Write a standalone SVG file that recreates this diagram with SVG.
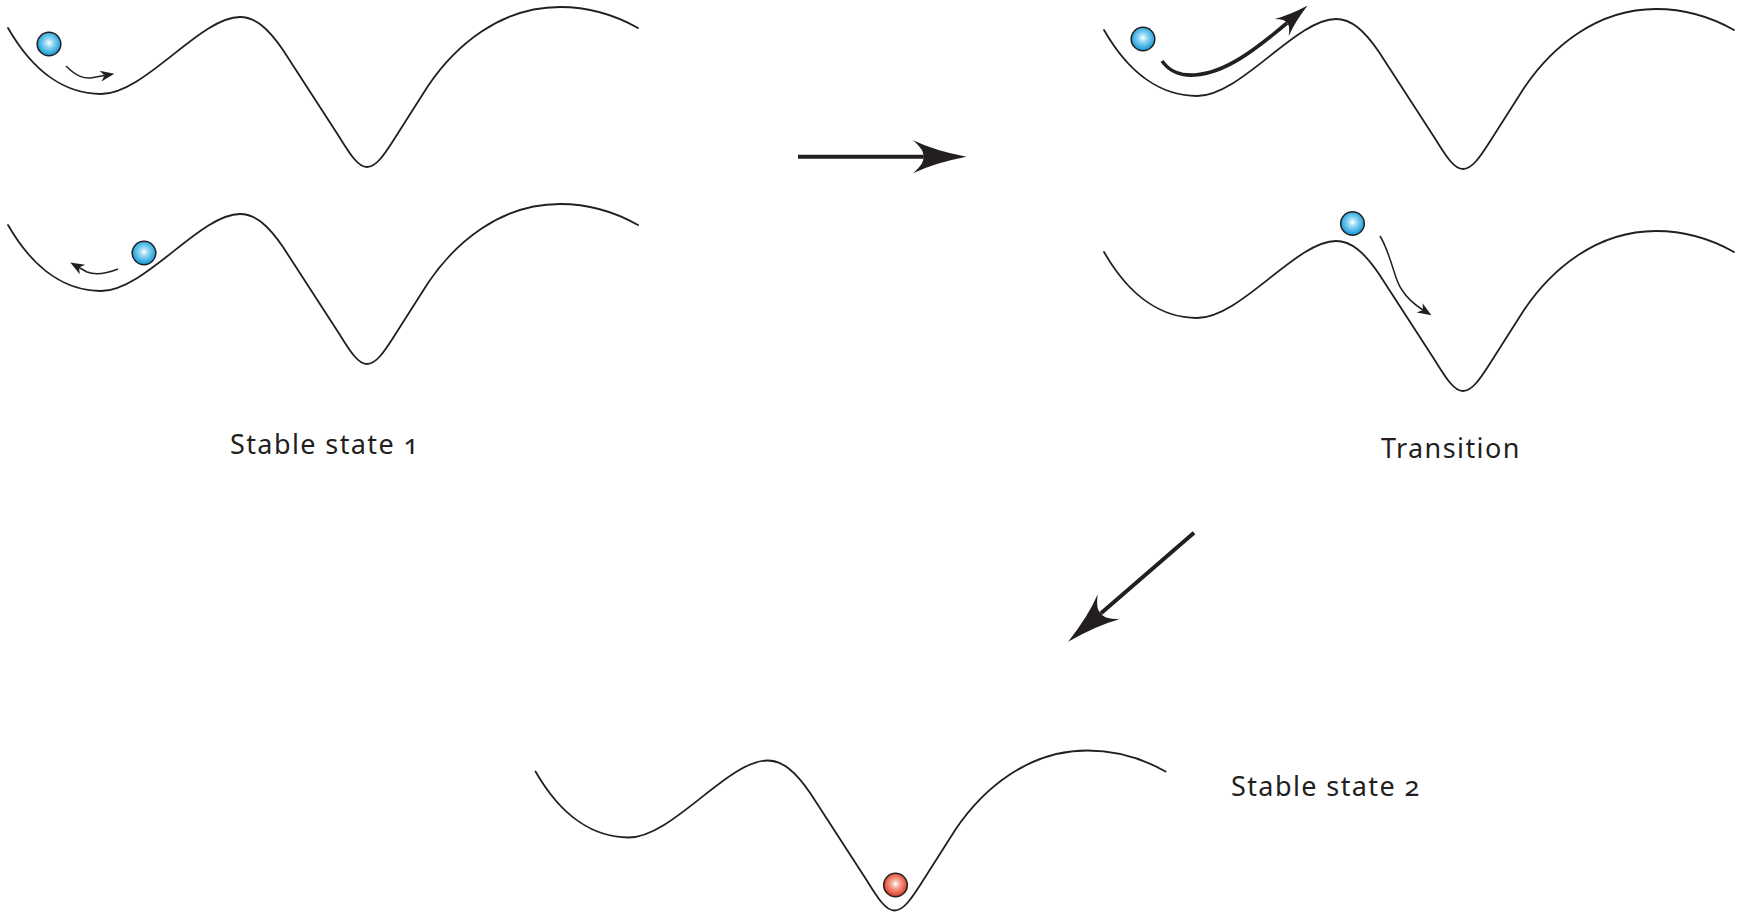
<svg xmlns="http://www.w3.org/2000/svg" xmlns:xlink="http://www.w3.org/1999/xlink" width="1742" height="914" viewBox="0 0 1742 914">
  <style>
    .land { fill: none; stroke: #231f20; stroke-width: 1.8; stroke-linecap: round; stroke-linejoin: round; }
    .ball { stroke: #231f20; stroke-width: 1.5; }
    .thin { fill: none; stroke: #231f20; stroke-width: 1.5; }
    .thick { fill: none; stroke: #231f20; stroke-width: 3.6; }
    .big { fill: none; stroke: #231f20; stroke-width: 4; }
    .label { font-family: "Noto Sans", "Open Sans", "Liberation Sans", sans-serif; font-size: 27px; letter-spacing: 1.4px; fill: #231f20; font-variant-numeric: oldstyle-nums; font-feature-settings: "onum"; }
  </style>
  <defs>
    <radialGradient id="blueBall" cx="50%" cy="45%" r="55%">
      <stop offset="0" stop-color="#ffffff"/>
      <stop offset="0.35" stop-color="#8fd6f3"/>
      <stop offset="1" stop-color="#0d96d6"/>
    </radialGradient>
    <radialGradient id="redBall" cx="50%" cy="45%" r="55%">
      <stop offset="0" stop-color="#ffffff"/>
      <stop offset="0.35" stop-color="#f5a290"/>
      <stop offset="1" stop-color="#d9341f"/>
    </radialGradient>
    <!-- energy landscape: shallow well, barrier, deep well -->
    <path id="landscape" d="M 8,28 C 35,75 68,94 101,94 C 145,94 200,17 240,17 C 255,17 268,28 283,50 L 340,138 C 350,154 358,167 367,167 C 376,167 384,155 393,141 L 428,86 C 455,46 500,7 560,7 C 590,7 615,15 638,28"/>
    <marker id="smallHead" markerUnits="userSpaceOnUse" markerWidth="20" markerHeight="14" viewBox="-5 -7 20 14" refX="0" refY="0" orient="auto" overflow="visible">
      <path d="M 10,0 L -4,-5.5 L 0,0 L -4,5.5 Z" fill="#231f20"/>
    </marker>
    <marker id="midHead" markerUnits="userSpaceOnUse" markerWidth="40" markerHeight="26" viewBox="-10 -13 40 26" refX="0" refY="0" orient="auto" overflow="visible">
      <path d="M 27,0 Q 8,-4 -7,-11 Q 1,-4 0,0 Q 1,4 -7,11 Q 8,4 27,0 Z" fill="#231f20"/>
    </marker>
    <marker id="bigHead" markerUnits="userSpaceOnUse" markerWidth="60" markerHeight="40" viewBox="-12 -20 60 40" refX="0" refY="0" orient="auto" overflow="visible">
      <path d="M 43.5,0 Q 12,-6 -10,-16.5 Q 2,-6 0,0 Q 2,6 -10,16.5 Q 12,6 43.5,0 Z" fill="#231f20"/>
    </marker>
  </defs>

  <rect width="1742" height="914" fill="#ffffff"/>

  <!-- stable state 1, upper: ball rocking to the right in the shallow well -->
  <g id="stable1-upper">
    <use xlink:href="#landscape" href="#landscape" class="land"/>
    <circle class="ball" cx="49" cy="44" r="11.8" fill="url(#blueBall)"/>
    <path class="thin" d="M 66,66 C 76,76 84,80 96,77 L 104.5,75.5" marker-end="url(#smallHead)"/>
  </g>

  <!-- stable state 1, lower: ball rocking back to the left -->
  <g id="stable1-lower">
    <use xlink:href="#landscape" href="#landscape" class="land" transform="translate(0,197)"/>
    <circle class="ball" cx="144" cy="253" r="11.8" fill="url(#blueBall)"/>
    <path class="thin" d="M 118,269 C 108,273 97,276 87,272 L 79,267.5" marker-end="url(#smallHead)"/>
  </g>

  <!-- transition, upper: ball pushed up over the barrier -->
  <g id="transition-upper">
    <use xlink:href="#landscape" href="#landscape" class="land" transform="translate(1096,2)"/>
    <circle class="ball" cx="1143" cy="39" r="11.8" fill="url(#blueBall)"/>
    <path class="thick" d="M 1162,61 C 1170,72 1180,76 1195,75 C 1225,73 1255,50 1287,23" marker-end="url(#midHead)"/>
  </g>

  <!-- transition, lower: ball at the barrier top falling into the deep well -->
  <g id="transition-lower">
    <use xlink:href="#landscape" href="#landscape" class="land" transform="translate(1096,224)"/>
    <circle class="ball" cx="1352.5" cy="223.5" r="11.8" fill="url(#blueBall)"/>
    <path class="thin" d="M 1380,236 C 1392,256 1394,280 1402,290 C 1407,298 1412,303 1423,310" marker-end="url(#smallHead)"/>
  </g>

  <!-- stable state 2: ball resting in the deep well -->
  <g id="stable2">
    <use xlink:href="#landscape" href="#landscape" class="land" transform="translate(527.5,743.5)"/>
    <circle class="ball" cx="895.5" cy="885" r="11.8" fill="url(#redBall)"/>
  </g>

  <!-- arrows between states -->
  <g id="connectors">
    <path class="big" d="M 798,156.7 L 923,156.7" marker-end="url(#bigHead)"/>
    <path class="big" d="M 1194,532.7 L 1101,613.3" marker-end="url(#bigHead)"/>
  </g>

  <g id="labels">
    <text class="label" x="230" y="454">Stable state 1</text>
    <text class="label" x="1381" y="458">Transition</text>
    <text class="label" x="1231" y="796">Stable state 2</text>
  </g>
</svg>
